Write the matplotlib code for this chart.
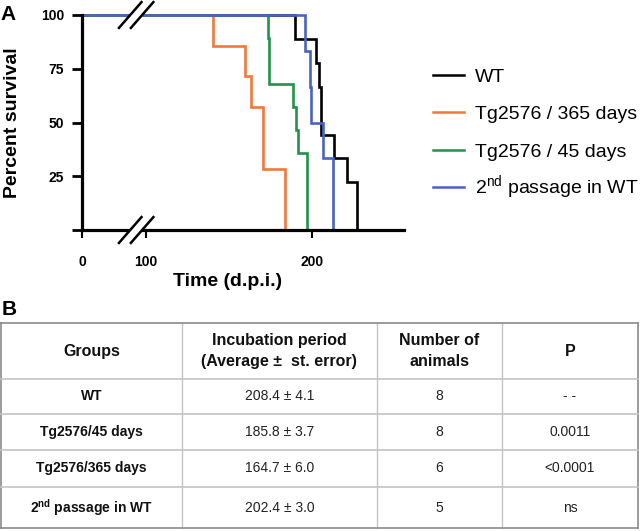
import matplotlib
matplotlib.use("Agg")
import matplotlib.pyplot as plt
import numpy as np
from matplotlib.lines import Line2D
from matplotlib.patches import Polygon

plt.rcParams["font.family"] = ["Liberation Sans", "DejaVu Sans"]
plt.rcParams["mathtext.fontset"] = "custom"
plt.rcParams["mathtext.rm"] = "Liberation Sans"
plt.rcParams["mathtext.bf"] = "Liberation Sans:bold"

# -----------------------------
# Data: survival curves (event time in d.p.i., percent surviving after event)
# -----------------------------
wt_times = [190, 202.6, 204.3, 205.3, 213.2, 221, 227]
wt_surv = [88.9, 77.8, 66.7, 44.4, 33.3, 22.2, 0]

tg365_times = [140.5, 159.8, 163.3, 170.6, 184.1]
tg365_surv = [85.7, 71.4, 57.1, 28.6, 0]

tg45_times = [173.5, 174.5, 189, 190.4, 191.6, 197]
tg45_surv = [89.3, 67.9, 57.1, 46.4, 35.7, 0]

p2_times = [196, 199.2, 199.6, 206.6, 212.6]
p2_surv = [83.3, 66.7, 50, 33.3, 0]

series_labels = ["WT", "Tg2576 / 365 days", "Tg2576 / 45 days",
                 r"2$^{\mathrm{nd}}$ passage in WT"]
series_colors = ["#000000", "#f07838", "#22924a", "#4a62c0"]

x_ticks = [0, 100, 200]
y_ticks = [0, 25, 50, 75, 100]
y_tick_labels = ["", "25", "50", "75", "100"]

# Table data
table_header = ["Groups", "Incubation period\n(Average \u00b1  st. error)",
                "Number of\nanimals", "P"]
groups = ["WT", "Tg2576/45 days", "Tg2576/365 days",
          r"2$^{\mathbf{nd}}$ passage in WT"]
incubation = ["208.4 \u00b1 4.1", "185.8 \u00b1 3.7", "164.7 \u00b1 6.0",
              "202.4 \u00b1 3.0"]
n_animals = ["8", "8", "6", "5"]
p_values = ["- -", "0.0011", "<0.0001", "ns"]

# -----------------------------
# Broken x axis: 0-100 compressed
# -----------------------------
K = 0.382


def fwd(x):
    x = np.asarray(x, dtype=float)
    return np.where(x <= 100, x * K, x - 100 * (1 - K))


def inv(f):
    f = np.asarray(f, dtype=float)
    return np.where(f <= 100 * K, f / K, f + 100 * (1 - K))


W, H = 640, 531
fig = plt.figure(figsize=(W / 100, H / 100), dpi=100)

ax = fig.add_axes([82.3 / W, 1 - 230 / H, 321.7 / W, 215 / H])
ax.set_xscale("function", functions=(fwd, inv))
ax.set_xlim(0, 255.6)
ax.set_ylim(0, 100)

curves = [(wt_times, wt_surv), (tg365_times, tg365_surv),
          (tg45_times, tg45_surv), (p2_times, p2_surv)]
for (t, s), color in zip(curves, series_colors):
    ax.step([0] + t, [100] + s, where="post", color=color, lw=1.9,
            clip_on=False, solid_joinstyle="miter")

for side in ["top", "right"]:
    ax.spines[side].set_visible(False)
for side in ["left", "bottom"]:
    ax.spines[side].set_linewidth(2.3)
    ax.spines[side].set_capstyle("projecting")

ax.set_xticks(x_ticks)
ax.set_xticklabels([str(v) for v in x_ticks], fontsize=10, fontweight="bold")
ax.set_yticks(y_ticks)
ax.set_yticklabels(y_tick_labels, fontsize=10, fontweight="bold")
ax.tick_params(axis="y", length=7, width=2, pad=6)
ax.tick_params(axis="x", length=6, width=1.5, pad=12)

ax.set_ylabel("Percent survival", fontsize=14, fontweight="bold")
ax.yaxis.set_label_coords(-0.19, 0.5)
ax.set_xlabel("Time (d.p.i.)", fontsize=14, fontweight="bold")
ax.xaxis.set_label_coords(0.45, -0.2)

# break marks
cx1, cx2, dx, dy = 0.149, 0.186, 0.035, 0.06
for yb in [0.0, 1.0]:
    poly = Polygon([(cx1 - dx, yb - dy), (cx1 + dx, yb + dy),
                    (cx2 + dx, yb + dy), (cx2 - dx, yb - dy)],
                   closed=True, facecolor="white", edgecolor="none",
                   transform=ax.transAxes, clip_on=False, zorder=5)
    ax.add_patch(poly)
    for cx in [cx1, cx2]:
        ax.plot([cx - dx, cx + dx], [yb - dy, yb + dy], color="black",
                lw=1.8, transform=ax.transAxes, clip_on=False, zorder=6)

# legend drawn at the right
leg_y = [75, 112.3, 149.6, 187]
for label, color, yc in zip(series_labels, series_colors, leg_y):
    fig.add_artist(Line2D([432.7 / W, 464 / W], [1 - yc / H, 1 - yc / H],
                          color=color, lw=1.8, transform=fig.transFigure))
    fig.text(475 / W, 1 - (yc + 7) / H, label, fontsize=14,
             va="baseline", ha="left")

fig.text(8 / W, 1 - 15 / H, "A", fontsize=15, fontweight="bold",
         ha="center", va="center")
fig.text(9 / W, 1 - 309.5 / H, "B", fontsize=15, fontweight="bold",
         ha="center", va="center")

# -----------------------------
# Table (panel B)
# -----------------------------
tab = fig.add_axes([0, 0, 1, 230 / H])
tab.set_xlim(0, W)
tab.set_ylim(H, H - 230)
tab.axis("off")

col_lines = [1, 181.7, 377, 502, 638]
row_lines = [323.3, 379, 414, 450, 486.7, 528.3]

for i, x in enumerate(col_lines):
    outer = i in (0, len(col_lines) - 1)
    tab.plot([x, x], [row_lines[0], row_lines[-1]],
             color="#8a8a8a" if outer else "#c4c4c4", lw=1.2 if outer else 1.0)
for i, y in enumerate(row_lines):
    outer = i in (0, len(row_lines) - 1)
    tab.plot([col_lines[0], col_lines[-1]], [y, y],
             color="#8a8a8a" if outer else "#c4c4c4", lw=1.2)

col_cx = [(a + b) / 2 for a, b in zip(col_lines[:-1], col_lines[1:])]
row_cy = [(a + b) / 2 for a, b in zip(row_lines[:-1], row_lines[1:])]

for cx, text in zip(col_cx, table_header):
    tab.text(cx, row_cy[0], text, ha="center", va="center", fontsize=11.5,
             fontweight="bold", linespacing=1.45, color="#111111")

for r, (g, inc, n, p) in enumerate(zip(groups, incubation, n_animals, p_values)):
    cy = row_cy[r + 1]
    tab.text(col_cx[0], cy, g, ha="center", va="center", fontsize=10,
             fontweight="bold", color="#111111")
    for cx, val in zip(col_cx[1:], [inc, n, p]):
        tab.text(cx, cy, val, ha="center", va="center", fontsize=10,
                 color="#222222")

fig.savefig("out.png", dpi=100)
